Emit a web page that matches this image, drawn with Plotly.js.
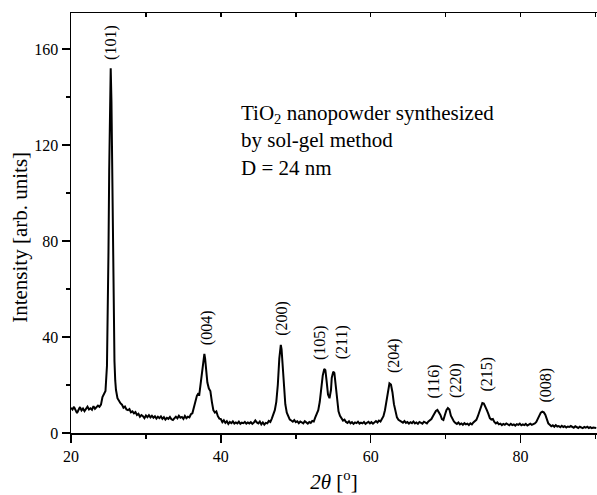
<!DOCTYPE html>
<html>
<head>
<meta charset="utf-8">
<script src="https://cdn.plot.ly/plotly-3.0.1.min.js"></script>
<style>html,body{margin:0;padding:0;background:#fff;}#chart{width:597px;height:495px;}</style>
</head>
<body>
<div id="chart"></div>
<script>
// 2-theta positions (degrees)
const twoTheta = [
20.0,20.2,20.4,20.6,20.8,21.0,21.2,21.4,21.6,21.8,22.0,22.2,22.4,22.6,22.8,23.0,23.2,23.4,23.6,23.8,
24.0,24.2,24.4,24.6,24.8,24.9,25.0,25.1,25.2,25.3,25.4,25.5,25.6,25.7,25.8,25.9,26.0,26.2,26.4,26.6,
26.8,27.0,27.2,27.4,27.6,27.8,28.0,28.2,28.4,28.6,28.8,29.0,29.2,29.4,29.6,29.8,30.0,30.2,30.4,30.6,
30.8,31.0,31.2,31.4,31.6,31.8,32.0,32.2,32.4,32.6,32.8,33.0,33.2,33.4,33.6,33.8,34.0,34.2,34.4,34.6,
34.8,35.0,35.2,35.4,35.6,35.8,36.0,36.2,36.4,36.6,36.8,37.0,37.1,37.2,37.4,37.6,37.8,37.9,38.0,38.2,
38.4,38.6,38.8,39.0,39.2,39.4,39.6,39.8,40.0,40.2,40.4,40.6,40.8,41.0,41.2,41.4,41.6,41.8,42.0,42.2,
42.4,42.6,42.8,43.0,43.2,43.4,43.6,43.8,44.0,44.2,44.4,44.6,44.8,45.0,45.2,45.4,45.6,45.8,46.0,46.2,
46.4,46.6,46.8,47.0,47.2,47.4,47.6,47.8,48.0,48.1,48.2,48.4,48.6,48.8,49.0,49.2,49.4,49.6,49.8,50.0,
50.2,50.4,50.6,50.8,51.0,51.2,51.4,51.6,51.8,52.0,52.2,52.4,52.6,52.8,53.0,53.2,53.4,53.6,53.8,53.95,
54.1,54.3,54.5,54.7,54.8,55.0,55.15,55.3,55.5,55.7,55.9,56.1,56.3,56.5,56.7,56.9,57.1,57.3,57.5,57.7,
57.9,58.1,58.3,58.5,58.7,58.9,59.1,59.3,59.5,59.7,59.9,60.1,60.3,60.5,60.7,60.9,61.1,61.3,61.5,61.7,
61.9,62.1,62.3,62.5,62.7,62.9,63.1,63.3,63.5,63.7,63.9,64.1,64.3,64.5,64.7,64.9,65.1,65.3,65.5,65.7,
65.9,66.1,66.3,66.5,66.7,66.9,67.1,67.3,67.5,67.7,67.9,68.1,68.3,68.5,68.7,68.9,69.1,69.3,69.5,69.7,
69.9,70.1,70.3,70.5,70.7,70.9,71.1,71.3,71.5,71.7,71.9,72.1,72.3,72.5,72.7,72.9,73.1,73.3,73.5,73.7,
73.9,74.1,74.3,74.5,74.7,74.9,75.1,75.3,75.5,75.7,75.9,76.1,76.3,76.5,76.7,76.9,77.1,77.3,77.5,77.7,
77.9,78.1,78.3,78.5,78.7,78.9,79.1,79.3,79.5,79.7,79.9,80.1,80.3,80.5,80.7,80.9,81.1,81.3,81.5,81.7,
81.9,82.1,82.3,82.5,82.7,82.9,83.1,83.3,83.5,83.7,83.9,84.1,84.3,84.5,84.7,84.9,85.1,85.3,85.5,85.7,
85.9,86.1,86.3,86.5,86.7,86.9,87.1,87.3,87.5,87.7,87.9,88.1,88.3,88.5,88.7,88.9,89.1,89.3,89.5,89.7,
89.9,90.1
];
// Intensity (arb. units)
const intensity = [
10.5,9.8,10.9,9.2,8.3,9.6,10.8,9.4,10.2,9.1,10.4,11.0,9.8,10.3,9.7,11.2,10.1,10.6,11.4,10.9,
11.8,15.0,16.5,17.5,28,45,75,110,140,152,138,105,70,45,30,22,18,14.5,13.2,12.4,
11.8,10.5,11.0,9.8,9.5,10.0,8.6,9.0,8.2,8.7,7.5,8.0,6.8,7.5,7.0,6.2,7.3,6.6,7.4,6.5,
7.2,6.4,7.0,6.0,6.8,6.2,6.9,5.9,6.6,5.6,6.3,5.9,6.7,5.7,5.4,6.0,6.8,6.1,7.2,6.4,
6.7,5.9,7.1,6.2,6.8,6.5,7.8,8.2,11.0,13.5,15.5,16.5,15.5,18,23,29,33,31,27,21,
18.5,17.5,13,9.5,8.5,9.0,7.0,6.0,5.8,4.5,5.3,4.2,4.9,3.8,4.6,4.1,4.8,3.9,4.4,4.0,
4.7,3.8,4.3,4.1,4.6,3.9,4.4,4.0,4.5,3.8,4.3,5.2,4.4,4.0,4.8,3.6,4.4,3.5,4.2,4.0,
5.0,4.6,6.0,7.5,9.5,13,20,31,36.7,35,30,20,12,8.5,7.0,5.6,5.2,4.7,5.4,4.5,
4.9,4.1,4.8,4.3,4.0,4.9,4.4,3.9,4.6,4.2,5.0,4.8,6.5,7.8,9.5,13,19,24,26.7,26.2,
22,16,14.5,18,23,25.5,25,20,13,9,7.2,6.0,5.2,5.6,4.6,4.2,4.9,4.0,4.5,3.8,
4.4,4.1,4.7,3.9,4.3,4.0,4.6,3.8,4.2,4.7,4.0,4.5,3.9,4.3,5.0,4.4,5.2,4.8,6.0,7.0,
9.5,13,17,20.7,20.2,17,12,8.5,6.5,5.5,5.2,4.8,4.3,5.0,4.2,4.6,3.9,4.5,4.1,4.8,
4.0,4.4,3.8,4.6,4.2,3.9,4.7,4.3,4.0,4.8,5.3,5.8,7.0,8.5,9.2,9.6,8.8,7.5,5.8,5.4,
7.5,9.5,10.4,9.8,7.2,5.6,4.8,4.2,3.8,4.4,3.6,4.0,3.4,4.1,3.6,3.9,3.3,4.0,3.6,4.4,
4.8,5.5,7.0,8.8,11.0,12.5,12.3,11.2,9.5,8.0,6.2,5.6,5.8,4.6,4.0,4.4,3.6,3.9,3.3,3.8,
3.4,4.0,3.5,3.2,3.8,3.3,3.6,3.1,3.7,3.4,3.9,3.2,3.6,3.3,3.8,3.1,3.5,3.9,3.4,3.6,
4.0,4.6,5.8,7.2,8.5,8.9,8.6,7.6,5.8,4.0,3.4,2.8,3.2,2.6,3.3,2.7,2.9,2.4,3.0,2.5,
2.8,2.3,2.7,2.5,2.9,2.4,2.2,2.8,2.4,2.1,2.6,2.3,2.0,2.5,2.2,2.6,2.1,2.4,2.0,2.3,
2.2,2.1
];
// Peak labels (Miller indices) and their label anchor positions
const peakLabels = ["(101)","(004)","(200)","(105)","(211)","(204)","(116)","(220)","(215)","(008)"];
const labelX = [25.4, 38.1, 48.2, 53.2, 56.1, 63.2, 68.5, 71.3, 75.4, 83.4];
const labelY = [154.6, 35.8, 39.6, 29.7, 30.1, 24.2, 13.75, 13.75, 16.25, 11.7];
const xTickVals = [20, 40, 60, 80];
const yTickVals = [0, 40, 80, 120, 160];

const serif = "Liberation Serif";

const traces = [
  {x: twoTheta, y: intensity, type: 'scatter', mode: 'lines',
   line: {color: '#000', width: 2}, hoverinfo: 'skip', showlegend: false},
  {x: twoTheta, y: intensity, xaxis: 'x2', type: 'scatter', mode: 'lines',
   line: {color: 'rgba(0,0,0,0)', width: 0}, hoverinfo: 'skip', showlegend: false}
];

const annotations = peakLabels.map((t, i) => ({
  x: labelX[i], y: labelY[i], xref: 'x', yref: 'y', text: t,
  showarrow: false, textangle: -90, xanchor: 'center', yanchor: 'bottom',
  font: {family: serif, size: 16, color: '#000'}
}));
annotations.push({
  x: 42.4, y: 139, xref: 'x', yref: 'y', xanchor: 'left', yanchor: 'top', align: 'left',
  showarrow: false,
  text: 'TiO<sub>2</sub> nanopowder synthesized<br>by sol-gel method<br>D = 24 nm',
  font: {family: serif, size: 21, color: '#000'}
});
annotations.push({
  x: -0.097, y: 0.467, xref: 'paper', yref: 'paper', xanchor: 'center', yanchor: 'middle',
  showarrow: false, textangle: -90,
  text: 'Intensity [arb. units]',
  font: {family: serif, size: 21, color: '#000'}
});

const layout = {
  width: 597, height: 495,
  margin: {l: 71, r: 0, t: 13, b: 62, pad: 0},
  paper_bgcolor: '#fff', plot_bgcolor: '#fff',
  showlegend: false,
  font: {family: serif, color: '#000', size: 16},
  xaxis: {
    range: [20, 90.2], tickvals: xTickVals, ticktext: xTickVals.map(String),
    ticks: 'outside', ticklen: 8, tickwidth: 1.5, tickcolor: '#000',
    minor: {dtick: 10, tick0: 20, ticks: 'outside', ticklen: 4, tickwidth: 1.5, tickcolor: '#000'},
    showline: true, linecolor: '#000', linewidth: 1.5, mirror: false,
    showgrid: false, zeroline: false,
    tickfont: {family: serif, size: 16, color: '#000'},
    title: {text: '<i>2θ</i> [<sup>o</sup>]', font: {family: serif, size: 21, color: '#000'}, standoff: 10}
  },
  xaxis2: {
    overlaying: 'x', side: 'top', range: [20, 90.2], dtick: 10, tick0: 20,
    ticks: 'inside', ticklen: 4, tickwidth: 1.5, tickcolor: '#000',
    showticklabels: false, showline: true, linecolor: '#000', linewidth: 1.5,
    showgrid: false, zeroline: false
  },
  yaxis: {
    range: [0, 175], tickvals: yTickVals, ticktext: yTickVals.map(String),
    ticks: 'outside', ticklen: 8, tickwidth: 1.5, tickcolor: '#000',
    minor: {dtick: 20, tick0: 0, ticks: 'outside', ticklen: 4, tickwidth: 1.5, tickcolor: '#000'},
    showline: true, linecolor: '#000', linewidth: 1.5, mirror: false,
    showgrid: false, zeroline: false,
    tickfont: {family: serif, size: 16, color: '#000'}
  },
  annotations: annotations
};

Plotly.newPlot('chart', traces, layout, {displayModeBar: false, staticPlot: true});
</script>
</body>
</html>
